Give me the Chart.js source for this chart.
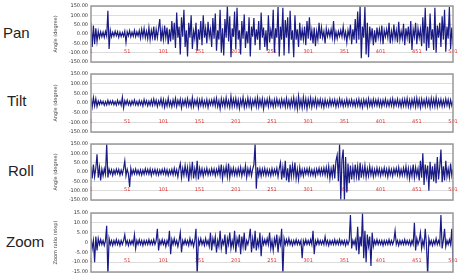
<!DOCTYPE html>
<html>
<head>
<meta charset="utf-8">
<script src="https://cdn.jsdelivr.net/npm/chart.js@4"></script>
<style>
  body { margin: 0; background: #fff; }
  #wrap { position: relative; width: 458px; height: 278px; overflow: hidden; }
  canvas { position: absolute; left: 0; }
  .name { position: absolute; font-family: "Liberation Sans", Arial, sans-serif; font-size: 15px; color: #222; line-height: 16px; }
</style>
</head>
<body>
<div id="wrap">
  <div class="name" style="left:3px;top:25px">Pan</div>
  <div class="name" style="left:7px;top:93px">Tilt</div>
  <div class="name" style="left:8px;top:163px">Roll</div>
  <div class="name" style="left:6px;top:234px">Zoom</div>
  <canvas id="pan-chart" style="top:0px"></canvas>
  <canvas id="tilt-chart" style="top:68px"></canvas>
  <canvas id="roll-chart" style="top:138px"></canvas>
  <canvas id="zoom-chart" style="top:206px"></canvas>
</div>
<script>
// tick labels
const xTickLabels = ['1', '51', '101', '151', '201', '251', '301', '351', '401', '451', '501'];
const angleTicks = ['150.00', '100.00', '50.00', '0.00', '-50.00', '-100.00', '-150.00'];
const zoomTicks = ['15.00', '10.00', '5.00', '0', '-5.00', '-10.00', '-15.00'];

// samples (301 per panel)
const panValues = [
    60, -70, 45, -55, 30, -40, 15, -20, 12, -15, 10, -18, 14, -12, 125, -80, 20, -15, 10, -12,
    15, -10, 12, -18, 10, -14, 8, -12, 15, -45, 12, -10, 18, -15, 10, -12, 20, -14, 12, -10,
    18, -22, 25, -15, 30, -20, 15, -25, 35, -30, 20, -18, 40, -35, 25, -20, 30, 80, -40, 25,
    -30, 45, -20, 35, -55, 25, -40, 70, -30, 60, -75, 115, -20, 40, -110, 90, -15, 130, -70, 20,
    -120, 60, -20, 100, -80, 15, -25, 60, -90, 25, -30, 70, -60, 100, -20, 30, -50, 65, -15, 25,
    -70, 85, -25, 110, -90, 20, -30, 130, -100, 30, -115, 80, -20, 150, -40, 95, -125, 30, -15, 120,
    -80, 140, -30, 20, -110, 70, -25, 105, -75, 15, -50, 90, -120, 40, -15, 85, -60, 25, -30, 70,
    -85, 115, -20, 35, -70, 20, -90, 100, -45, 20, -25, 130, -100, 30, -20, 145, -120, 40, -30, 140,
    -115, 75, -20, 90, -105, 125, -30, 20, -125, 100, -30, 25, -70, 60, -35, 25, -30, 40, -60, 70,
    -25, 90, -35, 20, -50, 35, -65, 15, -30, 60, -25, 35, -20, 15, -50, 30, -12, 20, -15, 25,
    -20, 70, -30, 12, -25, 15, -12, 20, -15, 40, -20, 12, -45, 20, -15, 50, -55, 25, -30, 80,
    -50, 120, -30, 150, -130, 40, -20, 145, -110, 60, -125, 40, -25, 30, -60, 20, -45, 35, -20, 25,
    -30, 45, -55, 20, -15, 25, -20, 60, -50, 15, -30, 50, -25, 20, -45, 65, -30, 15, -25, 55,
    -60, 30, -20, 40, -50, 70, -85, 25, -15, 60, -55, 30, -20, 25, -65, 90, -50, 140, -90, 40,
    -75, 110, -30, 25, -85, 140, -100, 45, -20, 60, -70, 95, -30, 130, -95, 40, -25, 145, -80, 35,
    -60
];
const tiltValues = [
    25, -20, 28, -15, 22, -18, 10, -8, 12, -6, 9, -12, 7, -10, 14, -8, 10, -6, 12, -9,
    8, -11, 14, -7, 10, -12, 30, -25, 12, -8, 15, -10, 9, -13, 11, -7, 16, -10, 8, -12,
    13, -9, 10, -15, 18, -8, 12, -14, 9, -11, 16, -12, 20, -10, 14, -18, 11, -9, 22, -15,
    18, -22, 12, -16, 25, -14, 10, -20, 16, -12, 24, -18, 14, -10, 20, -25, 15, -12, 18, -16,
    22, -15, 12, -20, 28, -18, 14, -11, 19, -24, 16, -13, 21, -17, 12, -15, 18, -22, 14, -10,
    16, -12, 20, -15, 25, -18, 12, -30, 22, -14, 18, -20, 28, -16, 13, -22, 35, -18, 20, -15,
    24, -20, 16, -28, 18, -12, 30, -22, 14, -18, 26, -16, 20, -25, 15, -12, 22, -18, 28, -20,
    18, -15, 22, -30, 16, -12, 20, -18, 25, -14, 12, -20, 18, -16, 22, -12, 15, -18, 20, -14,
    16, -20, 25, -18, 14, -22, 20, -15, 28, -24, 18, -30, 35, -20, 16, -25, 30, -18, 22, -28,
    20, -16, 26, -22, 18, -14, 24, -20, 16, -12, 20, -18, 14, -22, 18, -15, 12, -16, 20, -14,
    15, -12, 18, -20, 14, -16, 22, -12, 16, -18, 12, -14, 20, -16, 14, -12, 18, -15, 12, -18,
    16, -14, 20, -18, 14, -22, 18, -12, 16, -20, 22, -15, 14, -18, 20, -12, 16, -14, 18, -16,
    14, -18, 16, -12, 20, -15, 12, -16, 18, -14, 22, -18, 15, -12, 20, -16, 14, -20, 18, -15,
    20, -16, 24, -18, 16, -22, 18, -14, 22, -20, 25, -16, 18, -24, 20, -15, 16, -18, 22, -14,
    18, -22, 25, -16, 20, -18, 28, -20, 16, -14, 20, -18, 14, -16, 22, -12, 18, -20, 16, -14,
    12
];
const rollValues = [
    30, -35, 40, -25, 20, 95, -30, 25, -45, 15, -20, 18, -12, 150, -30, 15, -10, 12, -18, 10,
    -12, 15, -8, 14, -16, 10, -12, 18, 60, -20, 15, -10, -80, 20, -14, 12, -10, 16, -12, 10,
    -14, 12, -16, 10, -12, 18, -10, 14, -12, 16, -18, 12, -10, 15, -14, 12, -16, 10, -12, 14,
    -10, 16, -14, 12, -18, 10, -12, 14, -16, 20, -14, 12, -25, 18, 45, -30, 20, -18, 35, -15,
    25, -50, 30, -20, 55, -35, 18, -25, 60, -40, 20, -15, 18, -22, 14, -12, 20, -16, 12, -14,
    18, -12, 16, -20, 14, -12, 25, -18, 40, -35, 20, -15, 30, -25, 45, -30, 18, -14, 22, -16,
    15, -18, 20, -14, 25, -22, 16, -12, 35, -28, 18, -15, 22, -20, 16, 40, 150, -90, 25, -20,
    18, -22, 16, -14, 20, -18, 14, -16, 12, -20, 18, -15, 14, -12, 20, -25, 18, 50, -40, 25,
    -30, 60, -45, 20, -55, 40, -25, 35, -20, 50, -35, 15, -40, 25, -18, 14, -22, 16, -12, 18,
    -14, 20, -16, 12, -18, 14, -22, 16, -12, 20, -15, 18, -14, 22, -16, 25, -20, 30, -35, 18,
    -25, 40, -35, 60, 90, -50, 150, -150, 70, 120, -150, 80, -110, 45, -60, 35, -40, 25, -30, 40,
    -25, 30, -45, 50, -30, 25, -20, 35, -28, 18, -22, 30, -16, 20, -25, 14, -18, 22, -15, 18,
    -20, 16, -14, 22, -18, 15, -25, 20, -16, 14, -22, 18, -12, 20, -16, 25, -20, 14, -18, 22,
    -16, 30, -25, 20, -35, 18, -22, 40, -30, 25, -20, 18, -45, 60, -30, 100, -70, 40, -25, 35,
    -100, 55, -40, 30, -50, 45, -60, 80, -40, 25, 120, -55, 30, -45, 60, -25, 18, -30, 45, -20,
    15
];
const zoomValues = [
    2, -3, 1, -10, 3, -4, 2, -1, 1.5, -1, 1, -1.5, 1, 8.5, -17, 2, -1, 1, -1.5, 1,
    -1, 1.5, -1, 1, -1.5, 1, -1, 1, 4, -1, 1, -1.5, 1, -1, 1, -1, 4, -3, 1, -1,
    1.5, -1, 1, -1.5, 1, -1, 1, -1, 1.5, -1, 1, -1, 1.5, -1, 1, 7, -4, 1, -1, 1.5,
    -1, 1, -2, 1, -1, 6, -6, 1.5, -1, 2, -1, 1, -2, 1, 5, -5, 1, -1, 1.5, -1,
    1, -1.5, 2, -1, 1, -2, 1, 7, -17, 1.5, -1, 2, -1, 1, -1.5, 2, -1, 1, -2, 5,
    -4, 2, -1, 3, -5, 1, -2, 6, -3, 1, -1, 4, -6, 2, -1, 5, -3, 1, -2, 6,
    -5, 2, -1, 4, -6, 3, -2, 5, -4, 1, -1, 2, 7, -5, 2, -3, 6, -4, 1, -2,
    5, -7, 2, -1, 1.5, -1, 2, -1, 5, -3, 1, -4, 2, -1, 4, -5, 2, -1, 7, -17,
    2, -1, 1.5, -1, 2, -1, 1, -1.5, 1, -1, 1.5, -1, 1, -1, 1, -8, 1, -1, 1.5, -1,
    1, -1, 1.5, -1, 6, -6, 1, -1, 1.5, -1, 1, -1, 1, -1, 3, -1, 1, -1.5, 1, -1,
    1, -1, 1.5, -1, 1, -1, 1.5, -1, 1, -1, 1, -1.5, 1, -1, 1, 14, -3, 1, -1, 1.5,
    -4, 8, -6, 3, -2, 15, -8, 6, -10, 4, -2, 3, -12, 5, -2, 1, -1, 1.5, -1, 1,
    -1, 1, -1.5, 1, -1, 1, -1, 1.5, -1, 1, -1, 1, 6, -1, 1, -1.5, 1, -1, 1, -1,
    1.5, -1, 1, -1, 1, -1.5, 1, -1, 10, -4, 2, -1, 1, 5, -3, 1, -2, 7, -1, -17,
    2, -1, 1, -1.5, 1, -1, 2, -1, 1, -1, 14, -3, 1, 7, -2, 1, -1, 1.5, -1, 7,
    -10
];

const frame = {
    id: 'frame',
    afterDraw(chart) {
        const a = chart.chartArea;
        const ctx = chart.ctx;
        ctx.save();
        ctx.strokeStyle = '#999';
        ctx.lineWidth = 1.5;
        ctx.strokeRect(a.left, a.top, a.right - a.left, a.bottom - a.top);
        ctx.restore();
    }
};

function makePanel(id, values, h, pad, range, yTicks, title, xAt) {
    const canvas = document.getElementById(id);
    canvas.width = 458;
    canvas.height = h;
    canvas.style.width = '458px';
    canvas.style.height = h + 'px';
    const points = values.map((v, i) => ({ x: i, y: v }));
    return new Chart(canvas, {
        type: 'line',
        data: {
            datasets: [{
                data: points,
                borderColor: '#1a1a84',
                borderWidth: 1.2,
                pointRadius: 0,
                tension: 0
            }]
        },
        options: {
            responsive: false,
            animation: false,
            events: [],
            layout: { padding: { left: 52, right: 5, top: pad[0], bottom: pad[1] } },
            plugins: { legend: { display: false }, tooltip: { enabled: false } },
            scales: {
                x: {
                    type: 'linear',
                    min: 0,
                    max: values.length - 1,
                    position: { y: xAt },
                    grid: { display: false },
                    border: { display: false },
                    ticks: {
                        stepSize: 30,
                        autoSkip: false,
                        maxRotation: 0,
                        padding: 0,
                        color: '#e03030',
                        font: { size: 5, family: 'DejaVu Sans' },
                        callback: (v) => xTickLabels[Math.round(v / 30)]
                    }
                },
                y: {
                    min: -range,
                    max: range,
                    afterFit: (scale) => { scale.width = 39; },
                    grid: { color: '#dcdcdc', drawTicks: false },
                    border: { display: false },
                    title: {
                        display: true,
                        text: title,
                        color: '#444',
                        padding: 1,
                        font: { size: 5, family: 'DejaVu Sans' }
                    },
                    ticks: {
                        stepSize: range / 3,
                        autoSkip: false,
                        padding: 3,
                        color: '#333',
                        font: { size: 5, family: 'DejaVu Sans' },
                        callback: (v) => yTicks[3 - Math.round(v / (range / 3))]
                    }
                }
            }
        },
        plugins: [frame]
    });
}

makePanel('pan-chart', panValues, 68, [5, 5], 150, angleTicks, 'Angle (degree)', -38);
makePanel('tilt-chart', tiltValues, 70, [6, 5], 150, angleTicks, 'Angle (degree)', -38);
makePanel('roll-chart', rollValues, 68, [4, 5], 150, angleTicks, 'Angle (degree)', -38);
makePanel('zoom-chart', zoomValues, 72, [7, 6], 15, zoomTicks, 'Zoom ratio (step)', -3.5);
</script>
</body>
</html>
